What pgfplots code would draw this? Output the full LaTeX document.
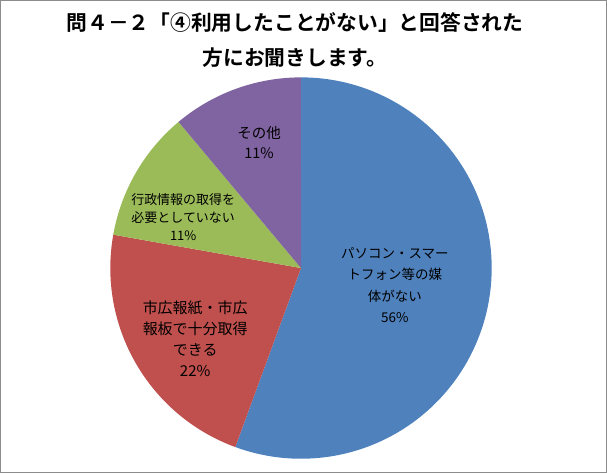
\documentclass[border=0pt]{standalone}
\usepackage{pgfplots}
\usepackage{pgfplotstable}
\pgfplotsset{compat=1.18}
\usepackage{fontspec}
\newfontfamily\cjk{Noto Sans CJK JP}[BoldFont={Noto Sans CJK JP Bold}]
\definecolor{sBlue}{HTML}{4F81BD}
\definecolor{sRed}{HTML}{C0504D}
\definecolor{sGreen}{HTML}{9BBB59}
\definecolor{sPurple}{HTML}{8064A2}
\pgfplotstableread{
idx value
0 55.6
1 22.2
2 11.1
3 11.1
}\piedata
\pgfplotstablegetelem{0}{value}\of\piedata \let\vA\pgfplotsretval
\pgfplotstablegetelem{1}{value}\of\piedata \let\vB\pgfplotsretval
\pgfplotstablegetelem{2}{value}\of\piedata \let\vC\pgfplotsretval
\pgfplotstablegetelem{3}{value}\of\piedata \let\vD\pgfplotsretval
\pgfmathsetmacro\tot{\vA+\vB+\vC+\vD}
\pgfmathsetmacro\aA{90}
\pgfmathsetmacro\aB{\aA-\vA/\tot*360}
\pgfmathsetmacro\aC{\aB-\vB/\tot*360}
\pgfmathsetmacro\aD{\aC-\vC/\tot*360}
\pgfmathsetmacro\aE{\aD-\vD/\tot*360}
\begin{document}
\begin{tikzpicture}
\begin{axis}[
  scale only axis, width=607bp, height=473bp,
  xmin=0, xmax=607, ymin=0, ymax=473,
  axis lines=box, ticks=none,
  axis line style={draw=black!45, line width=1bp},
  clip=false,
]
\def\C{(axis cs:301,205)}
\fill[sBlue]   \C -- +(\aA:191bp) arc[start angle=\aA, end angle=\aB, radius=191bp] -- cycle;
\fill[sRed]    \C -- +(\aB:191bp) arc[start angle=\aB, end angle=\aC, radius=191bp] -- cycle;
\fill[sGreen]  \C -- +(\aC:191bp) arc[start angle=\aC, end angle=\aD, radius=191bp] -- cycle;
\fill[sPurple] \C -- +(\aD:191bp) arc[start angle=\aD, end angle=\aE, radius=191bp] -- cycle;
\node[align=center, font=\cjk\bfseries\fontsize{20.8bp}{35bp}\selectfont] at (axis cs:295,433.5)
  {問４－２「④利用したことがない」と回答された\\方にお聞きします。};
\node[align=center, font=\cjk\fontsize{13.5bp}{21.5bp}\selectfont] at (axis cs:395,188)
  {パソコン・スマー\\トフォン等の媒\\体がない\\56\%};
\node[align=center, font=\cjk\fontsize{15bp}{21bp}\selectfont] at (axis cs:195,134.5)
  {市広報紙・市広\\報板で十分取得\\できる\\22\%};
\node[align=center, font=\cjk\fontsize{13bp}{18.5bp}\selectfont] at (axis cs:183,256)
  {行政情報の取得を\\必要としていない\\11\%};
\node[align=center, font=\cjk\fontsize{14.5bp}{20bp}\selectfont] at (axis cs:259,331)
  {その他\\11\%};
\end{axis}
\end{tikzpicture}
\end{document}
